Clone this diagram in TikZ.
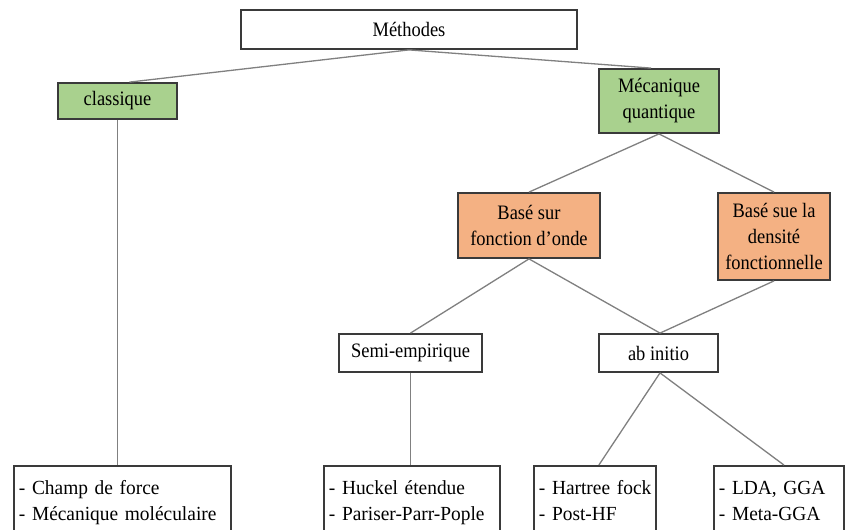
\documentclass[tikz,border=0pt]{standalone}
\usepackage{fontspec}
\setmainfont{Liberation Serif}
\newfontfamily\diagfont[FakeStretch=0.9]{Liberation Serif}
\newfontfamily\leaffont[FakeStretch=0.97]{Liberation Serif}
\definecolor{boxline}{HTML}{3A3A3A}
\definecolor{conn}{HTML}{808080}
\definecolor{greenfill}{HTML}{A9D18E}
\definecolor{orangefill}{HTML}{F4B183}
\begin{document}
\begin{tikzpicture}[x=1pt,y=-1pt,
  box/.style={draw=boxline, line width=1.8pt, align=center, inner sep=0pt,
    font=\diagfont\fontsize{20.5}{26}\selectfont},
  greenbox/.style={box, fill=greenfill},
  orangebox/.style={box, fill=orangefill},
  whitebox/.style={box, fill=white},
  leafbox/.style={draw=boxline, line width=1.8pt, fill=white, anchor=north west,
    align=left, inner xsep=5pt, inner ysep=15pt,
    font=\leaffont\fontsize{20}{26}\selectfont},
  conn/.style={draw=conn, line width=1.3pt}]
\useasboundingbox (0,0) rectangle (846,530);
\clip (0,0) rectangle (846,530);
\fill[white] (0,0) rectangle (846,530);

\node[whitebox, minimum width=336pt, minimum height=39pt] (m) at (409,29.5) {Méthodes};
\node[greenbox, minimum width=119pt, minimum height=36pt] (c) at (117.5,101) {classique};
\node[greenbox, minimum width=120pt, minimum height=64pt] (mq) at (659,101) {Mécanique\\quantique};
\node[orangebox, minimum width=142pt, minimum height=65pt] (bf) at (529,225.5) {Basé sur\\fonction d’onde};
\node[orangebox, minimum width=112pt, minimum height=87pt] (bd) at (774,236.5) {Basé sue la\\densité\\fonctionnelle};
\node[whitebox, minimum width=143pt, minimum height=38pt] (se) at (410.5,353) {Semi-empirique};
\node[whitebox, minimum width=119pt, minimum height=38pt] (ai) at (658.5,353) {ab initio};

\node[leafbox, text width=207pt] (b1) at (13,465) {\mbox{- Champ de force}\\\mbox{- Mécanique moléculaire}};
\node[leafbox, text width=166pt] (b2) at (323,465) {\mbox{- Huckel étendue}\\\mbox{- Pariser-Parr-Pople}};
\node[leafbox, text width=112pt] (b3) at (533,465) {\mbox{- Hartree fock}\\\mbox{- Post-HF}};
\node[leafbox, text width=120pt] (b4) at (713,465) {\mbox{- LDA, GGA}\\\mbox{- Meta-GGA}};

\draw[conn] (m.south) -- ([xshift=12pt]c.north);
\draw[conn] (m.south) -- ([xshift=-8pt]mq.north);
\draw[conn] (c.south) -- (c.south |- b1.north);
\draw[conn] (mq.south) -- (bf.north);
\draw[conn] (mq.south) -- (bd.north);
\draw[conn] (bf.south) -- (se.north);
\draw[conn] (bf.south) -- ([xshift=1.5pt]ai.north);
\draw[conn] (bd.south) -- ([xshift=1.5pt]ai.north);
\draw[conn] (se.south) -- (se.south |- b2.north);
\draw[conn] ([xshift=1.5pt]ai.south) -- ([xshift=4pt]b3.north);
\draw[conn] ([xshift=1.5pt]ai.south) -- ([xshift=5pt]b4.north);
\end{tikzpicture}
\end{document}
